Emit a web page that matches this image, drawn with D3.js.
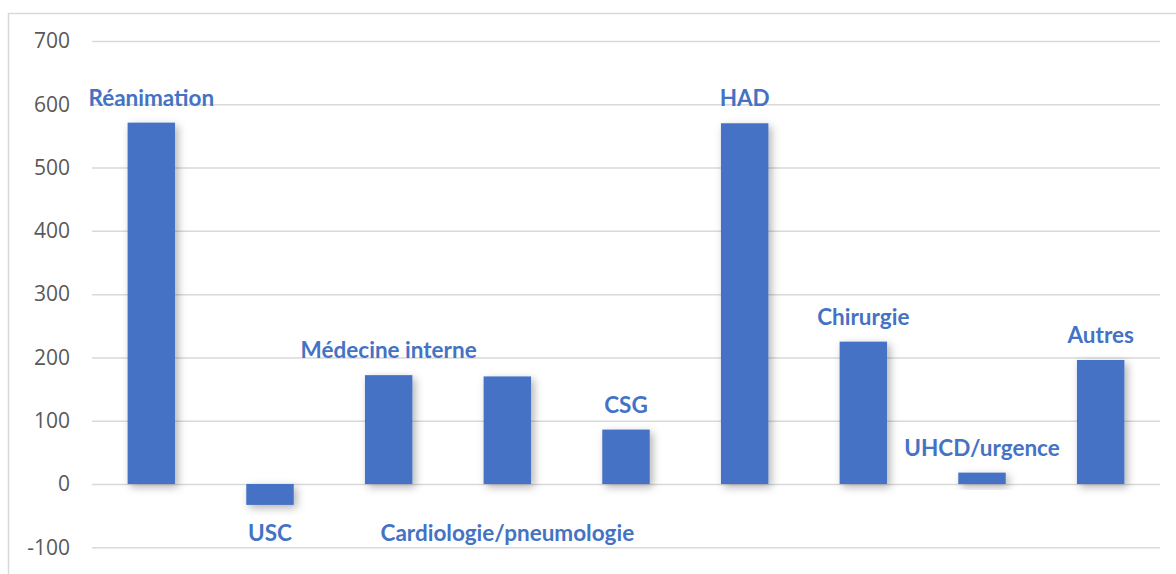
<!DOCTYPE html>
<html>
<head>
<meta charset="utf-8">
<script src="https://cdn.jsdelivr.net/npm/d3@7"></script>
<style>
  html, body { margin: 0; padding: 0; background: #fff; }
  svg { display: block; }
</style>
</head>
<body>
<svg id="chart" width="1176" height="574"></svg>
<script>
// Services and their values
const categories = [
  "Réanimation", "USC", "Médecine interne", "Cardiologie/pneumologie",
  "CSG", "HAD", "Chirurgie", "UHCD/urgence", "Autres"
];
const values = [571, -33, 172, 170, 86, 570, 225, 18, 196];
const yTicks = [-100, 0, 100, 200, 300, 400, 500, 600, 700];
// Categories whose name is written under the zero line
const labelsBelowAxis = ["USC", "Cardiologie/pneumologie"];

const svg = d3.select("#chart");
const W = 1176, H = 574;
const plot = { left: 92, right: 1160, top: 41, bottom: 547.3 };

// Outer frame
svg.append("rect")
  .attr("x", 8.5).attr("y", 13.5)
  .attr("width", W + 10).attr("height", H + 10)
  .attr("fill", "none").attr("stroke", "#d9d9d9").attr("stroke-width", 1.5);

const x = d3.scaleBand()
  .domain(categories)
  .range([plot.left, plot.right])
  .paddingInner(0.6).paddingOuter(0.3);

const y = d3.scaleLinear()
  .domain([-100, 700])
  .range([plot.bottom, plot.top]);

// Soft shadow under the bars
const defs = svg.append("defs");
const f = defs.append("filter").attr("id", "barShadow")
  .attr("x", "-50%").attr("y", "-50%").attr("width", "200%").attr("height", "200%");
f.append("feDropShadow")
  .attr("dx", 3).attr("dy", 3).attr("stdDeviation", 4)
  .attr("flood-color", "#000").attr("flood-opacity", 0.3);

// Gridlines and tick labels (plain hyphen for negatives)
const yAxis = d3.axisLeft(y).tickValues(yTicks)
  .tickSize(-(plot.right - plot.left)).tickPadding(22)
  .tickFormat(d => String(d));
const ga = svg.append("g")
  .attr("transform", `translate(${plot.left},0)`)
  .call(yAxis);
ga.select(".domain").remove();
ga.selectAll(".tick line")
  .attr("stroke", "#d9d9d9").attr("stroke-width", 1.5);
ga.selectAll(".tick text")
  .attr("fill", "#595959")
  .style("font-family", "'Open Sans', sans-serif")
  .style("font-size", "21px");

// Bars
const data = categories.map((c, i) => ({ cat: c, val: values[i] }));
svg.append("g").selectAll("rect")
  .data(data).join("rect")
  .attr("x", d => x(d.cat))
  .attr("y", d => y(Math.max(0, d.val)))
  .attr("width", x.bandwidth())
  .attr("height", d => Math.abs(y(d.val) - y(0)))
  .attr("fill", "#4472c4")
  .attr("filter", "url(#barShadow)");

// Category labels
svg.append("g").selectAll("text")
  .data(data).join("text")
  .attr("x", d => x(d.cat) + x.bandwidth() / 2)
  .attr("y", d => labelsBelowAxis.includes(d.cat) ? y(-77) : y(d.val + 40))
  .attr("text-anchor", "middle")
  .attr("dominant-baseline", "central")
  .attr("fill", "#4472c4")
  .style("font-family", "Lato, sans-serif")
  .style("font-weight", "bold")
  .style("font-size", "22.5px")
  .text(d => d.cat);
</script>
</body>
</html>
